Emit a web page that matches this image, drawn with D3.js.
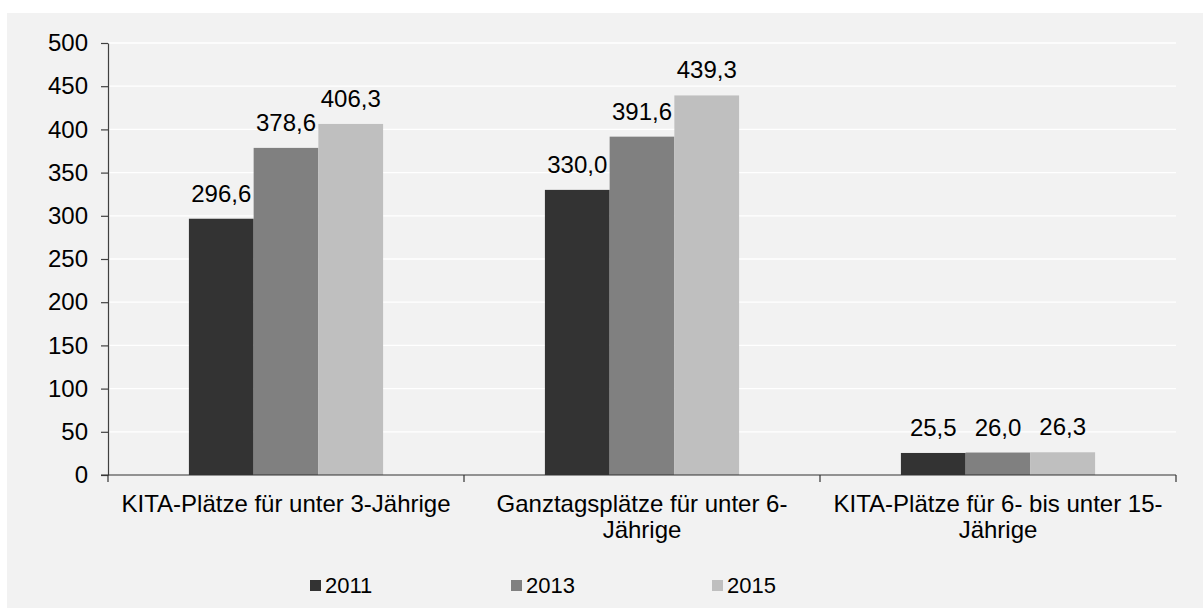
<!DOCTYPE html>
<html>
<head>
<meta charset="utf-8">
<script src="https://cdn.jsdelivr.net/npm/d3@7"></script>
<style>
  html, body { margin: 0; padding: 0; background: #ffffff; }
  svg { display: block; }
  text { font-family: "Liberation Sans", Arial, Helvetica, sans-serif; fill: #000; }
</style>
</head>
<body>
<svg id="chart" width="1203" height="610"></svg>
<script>
const categories = [
  ["KITA-Plätze für unter 3-Jährige"],
  ["Ganztagsplätze für unter 6-", "Jährige"],
  ["KITA-Plätze für 6- bis unter 15-", "Jährige"]
];
const years = ["2011", "2013", "2015"];
const values2011 = [296.6, 330.0, 25.5];
const values2013 = [378.6, 391.6, 26.0];
const values2015 = [406.3, 439.3, 26.3];
const yTicks = [0, 50, 100, 150, 200, 250, 300, 350, 400, 450, 500];
const colors = ["#333333", "#808080", "#bfbfbf"];

const series = [values2011, values2013, values2015];
const fmt = v => v.toFixed(1).replace(".", ",");

const svg = d3.select("#chart");
const W = 1203, H = 610;

// background panel
svg.append("rect").attr("x", 7).attr("y", 13).attr("width", W - 7).attr("height", 595).attr("fill", "#f2f2f2");

const plot = { left: 108, right: 1176, top: 43, bottom: 475 };

const catIdx = categories.map((c, i) => i);
const x0 = d3.scaleBand().domain(catIdx).range([plot.left, plot.right]).padding(0);
const x1 = d3.scaleBand().domain(years).range([0, x0.bandwidth()]).paddingInner(0).paddingOuter(1.25);
const y = d3.scaleLinear().domain([0, 500]).range([plot.bottom, plot.top]);

// gridlines
svg.append("g").selectAll("line").data(yTicks.filter(t => t > 0)).join("line")
  .attr("x1", plot.left).attr("x2", plot.right)
  .attr("y1", d => y(d)).attr("y2", d => y(d))
  .attr("stroke", "#ffffff").attr("stroke-width", 1.3);

// bars
const groups = svg.append("g").selectAll("g").data(catIdx).join("g")
  .attr("transform", i => `translate(${x0(i)},0)`);

groups.selectAll("rect").data(i => years.map((yr, k) => ({ yr, k, v: series[k][i] }))).join("rect")
  .attr("x", d => x1(d.yr))
  .attr("width", x1.bandwidth())
  .attr("y", d => y(d.v))
  .attr("height", d => y(0) - y(d.v))
  .attr("fill", d => colors[d.k]);

groups.selectAll("text").data(i => years.map((yr, k) => ({ yr, k, v: series[k][i] }))).join("text")
  .attr("x", d => x1(d.yr) + x1.bandwidth() / 2)
  .attr("y", d => y(d.v) - 17)
  .attr("text-anchor", "middle")
  .style("font-size", "24px")
  .text(d => fmt(d.v));

// y axis
const yAxis = svg.append("g").attr("transform", `translate(${plot.left},0)`)
  .call(d3.axisLeft(y).tickValues(yTicks).tickSize(7).tickPadding(13).tickSizeOuter(0));
yAxis.select(".domain").attr("stroke", "#404040").attr("stroke-width", 1.2);
yAxis.selectAll(".tick line").attr("stroke", "#404040").attr("stroke-width", 1.2);
yAxis.selectAll(".tick text").style("font-size", "24px").style("font-family", "'Liberation Sans', Arial, sans-serif").attr("fill", "#000");

// x axis line and boundary ticks
const xg = svg.append("g");
xg.append("line").attr("x1", plot.left - 7).attr("x2", plot.right)
  .attr("y1", y(0)).attr("y2", y(0)).attr("stroke", "#333333").attr("stroke-width", 1.2);
const bounds = catIdx.map(i => x0(i)).concat([x0(catIdx[catIdx.length - 1]) + x0.bandwidth()]);
xg.selectAll("line.tk").data(bounds).join("line").attr("class", "tk")
  .attr("x1", d => d).attr("x2", d => d)
  .attr("y1", y(0)).attr("y2", y(0) + 7)
  .attr("stroke", "#333333").attr("stroke-width", 1.2);

// category labels
const lbl = xg.selectAll("text.cat").data(catIdx).join("text").attr("class", "cat")
  .attr("text-anchor", "middle")
  .style("font-size", "24px");
lbl.each(function(i) {
  const t = d3.select(this);
  categories[i].forEach((line, j) => {
    t.append("tspan").attr("x", x0(i) + x0.bandwidth() / 2).attr("y", 512 + j * 26).text(line);
  });
});

// legend
const legX = [310, 511, 712];
const leg = svg.append("g").selectAll("g").data(years).join("g")
  .attr("transform", (d, k) => `translate(${legX[k]},580)`);
leg.append("rect").attr("width", 11).attr("height", 11).attr("fill", (d, k) => colors[k]);
leg.append("text").attr("x", 15).attr("y", 13).style("font-size", "22px").text(d => d);
</script>
</body>
</html>
